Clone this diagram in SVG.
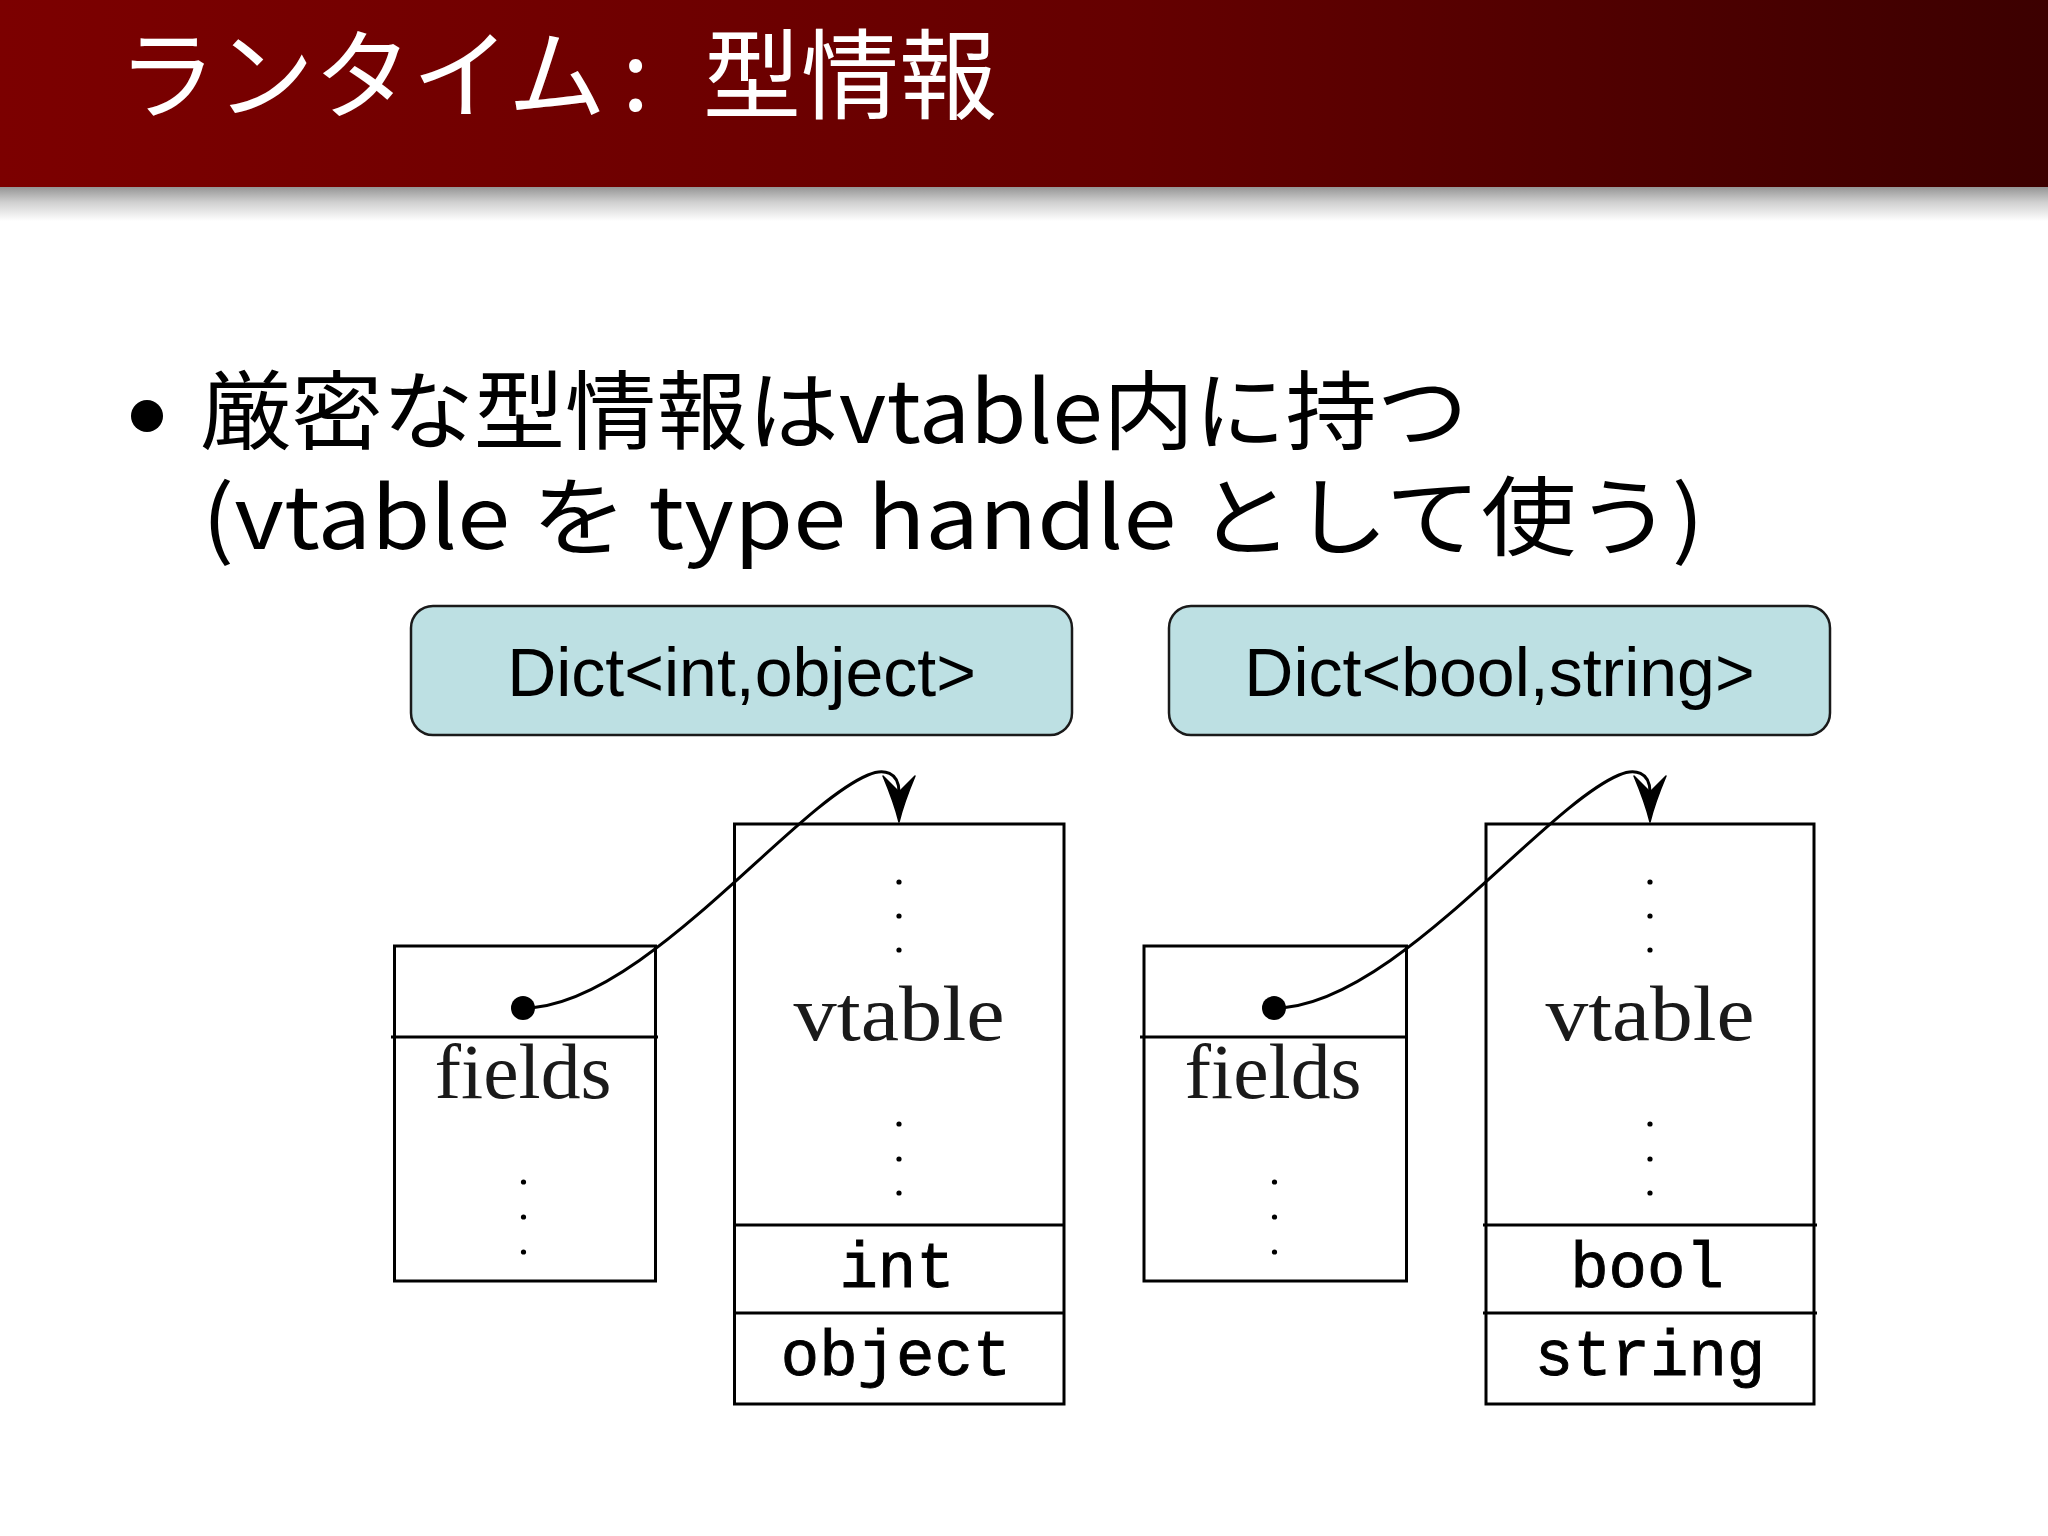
<svg xmlns="http://www.w3.org/2000/svg" width="2048" height="1536" viewBox="0 0 2048 1536">
  <defs>
    <linearGradient id="hdr" x1="0" y1="0" x2="1" y2="0">
      <stop offset="0" stop-color="#7c0000"/>
      <stop offset="0.55" stop-color="#650000"/>
      <stop offset="1" stop-color="#3c0000"/>
    </linearGradient>
    <linearGradient id="shadow" x1="0" y1="0" x2="0" y2="1">
      <stop offset="0" stop-color="#959595"/>
      <stop offset="0.45" stop-color="#d0d0d0"/>
      <stop offset="1" stop-color="#ffffff"/>
    </linearGradient>
    <marker id="arrow" markerUnits="userSpaceOnUse" viewBox="-20 -20 55 40" refX="0" refY="0" markerWidth="55" markerHeight="40" orient="auto">
      <path d="M 30 0 Q 10 -5 -16 -16 Q -5 -5 0 0 Q -5 5 -16 16 Q 10 5 30 0 Z" fill="#000" stroke="#000" stroke-width="1.5" stroke-linejoin="round"/>
    </marker>
    <style>
      .title { font-family: "Noto Sans CJK JP", "Noto Sans", sans-serif; font-size: 98px; fill: #ffffff; }
      .body { font-family: "Noto Sans CJK JP", "Noto Sans", sans-serif; font-size: 86px; fill: #000000; }
      .dict { fill: #bde0e3; stroke: #1a1a1a; stroke-width: 2.5; }
      .dictlabel { font-family: "Liberation Sans", Arial, sans-serif; font-size: 68px; fill: #000; text-anchor: middle; }
      .cell { fill: #ffffff; stroke: #000; stroke-width: 3; }
      .rule { stroke: #000; stroke-width: 3; }
      .rm { font-family: "Liberation Serif", "Times New Roman", serif; font-size: 78px; fill: #1a1a1a; text-anchor: middle; }
      .tt { font-family: "Liberation Mono", "Courier New", monospace; font-size: 64px; fill: #000; stroke: #000; stroke-width: 0.9; text-anchor: middle; }
      .vdot { fill: #000; }
      .link { fill: none; stroke: #000; stroke-width: 3; }
    </style>
  </defs>

  <rect x="0" y="0" width="2048" height="1536" fill="#ffffff"/>

  <g id="header">
    <rect x="0" y="187" width="2048" height="34" fill="url(#shadow)"/>
    <rect x="0" y="0" width="2048" height="187" fill="url(#hdr)"/>
    <text class="title" x="118" y="111">ランタイム<tspan x="622">:</tspan> <tspan x="703">型情報</tspan></text>
  </g>

  <g id="bullet">
    <circle cx="147" cy="416" r="16" fill="#000"/>
    <text class="body"><tspan x="200" y="443" textLength="1268" lengthAdjust="spacingAndGlyphs">厳密な型情報はvtable内に持つ</tspan><tspan x="202" y="549" textLength="1502" lengthAdjust="spacingAndGlyphs">(vtable を type handle として使う)</tspan></text>
  </g>

  <g id="dict1">
    <rect class="dict" x="411" y="606" width="661" height="129" rx="22" ry="22"/>
    <text class="dictlabel" x="741.5" y="696">Dict&lt;int,object&gt;</text>
  </g>

  <g id="dict2">
    <rect class="dict" x="1169" y="606" width="661" height="129" rx="22" ry="22"/>
    <text class="dictlabel" x="1499.5" y="696">Dict&lt;bool,string&gt;</text>
  </g>

  <g id="object1">
    <rect class="cell" x="394.5" y="946" width="261" height="335"/>
    <line class="rule" x1="391" y1="1037" x2="658" y2="1037"/>
    <text class="rm" x="523" y="1098" textLength="177" lengthAdjust="spacingAndGlyphs">fields</text>
    <circle class="vdot" cx="523.5" cy="1182" r="2.6"/>
    <circle class="vdot" cx="523.5" cy="1217" r="2.6"/>
    <circle class="vdot" cx="523.5" cy="1252" r="2.6"/>
  </g>

  <g id="vtable1">
    <rect class="cell" x="734.5" y="824" width="329.5" height="580"/>
    <line class="rule" x1="734.5" y1="1225" x2="1064" y2="1225"/>
    <line class="rule" x1="734.5" y1="1313" x2="1064" y2="1313"/>
    <circle class="vdot" cx="899" cy="882" r="2.6"/>
    <circle class="vdot" cx="899" cy="916" r="2.6"/>
    <circle class="vdot" cx="899" cy="950" r="2.6"/>
    <text class="rm" x="899" y="1040" textLength="211" lengthAdjust="spacingAndGlyphs">vtable</text>
    <circle class="vdot" cx="899" cy="1124" r="2.6"/>
    <circle class="vdot" cx="899" cy="1159" r="2.6"/>
    <circle class="vdot" cx="899" cy="1193" r="2.6"/>
    <text class="tt" x="897" y="1287">int</text>
    <text class="tt" x="896" y="1375">object</text>
  </g>

  <g id="object2">
    <rect class="cell" x="1144" y="946" width="262.5" height="335"/>
    <line class="rule" x1="1140" y1="1037" x2="1407" y2="1037"/>
    <text class="rm" x="1273" y="1098" textLength="177" lengthAdjust="spacingAndGlyphs">fields</text>
    <circle class="vdot" cx="1274.5" cy="1182" r="2.6"/>
    <circle class="vdot" cx="1274.5" cy="1217" r="2.6"/>
    <circle class="vdot" cx="1274.5" cy="1252" r="2.6"/>
  </g>

  <g id="vtable2">
    <rect class="cell" x="1486" y="824" width="328" height="580"/>
    <line class="rule" x1="1483" y1="1225" x2="1817" y2="1225"/>
    <line class="rule" x1="1483" y1="1313" x2="1817" y2="1313"/>
    <circle class="vdot" cx="1650" cy="882" r="2.6"/>
    <circle class="vdot" cx="1650" cy="916" r="2.6"/>
    <circle class="vdot" cx="1650" cy="950" r="2.6"/>
    <text class="rm" x="1650" y="1040" textLength="209" lengthAdjust="spacingAndGlyphs">vtable</text>
    <circle class="vdot" cx="1650" cy="1124" r="2.6"/>
    <circle class="vdot" cx="1650" cy="1159" r="2.6"/>
    <circle class="vdot" cx="1650" cy="1193" r="2.6"/>
    <text class="tt" x="1647" y="1287">bool</text>
    <text class="tt" x="1650" y="1375">string</text>
  </g>

  <g id="connectors">
    <circle cx="523" cy="1008" r="12" fill="#000"/>
    <path class="link" marker-end="url(#arrow)" d="M 523 1008 C 640 1008, 790 808, 868 775 C 884 768, 899 772, 899 792"/>
    <circle cx="1274" cy="1008" r="12" fill="#000"/>
    <path class="link" marker-end="url(#arrow)" d="M 1274 1008 C 1391 1008, 1541 808, 1619 775 C 1635 768, 1650 772, 1650 792"/>
  </g>
</svg>
